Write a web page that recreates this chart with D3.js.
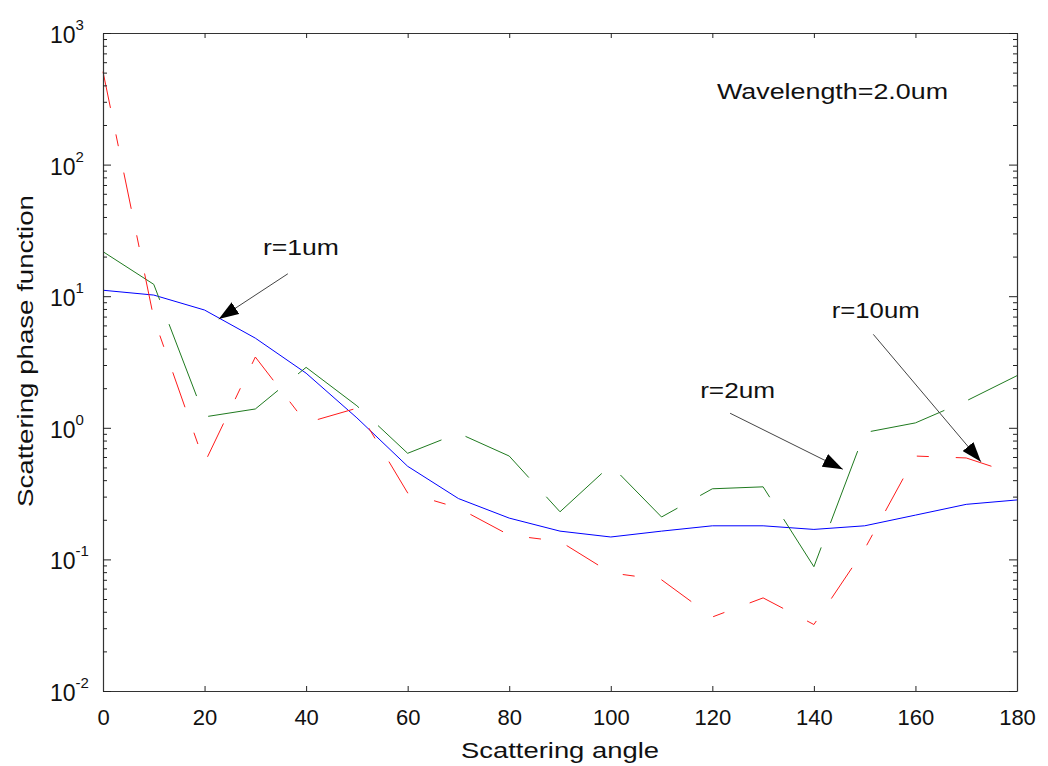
<!DOCTYPE html>
<html>
<head>
<meta charset="utf-8">
<script src="https://cdn.jsdelivr.net/npm/d3@7"></script>
<style>
  body { margin: 0; background: #fff; }
  svg text { font-family: "Liberation Sans", Arial, sans-serif; fill: #111; }
</style>
</head>
<body>
<svg id="chart" width="1048" height="766"></svg>
<script>
// scattering angle (deg)
const angles = [0, 10, 20, 30, 40, 50, 60, 70, 80, 90, 100, 110, 120, 130, 140, 150, 160, 170, 180];
// phase function, r = 1um
const r1um = [11.1, 10.2, 7.85, 4.8, 2.6, 1.19, 0.51, 0.29, 0.206, 0.164, 0.148, 0.164, 0.18, 0.18, 0.169, 0.18, 0.217, 0.262, 0.283];
// r = 2um
const r2um = [21.8, 12.3, 1.21, 1.39, 2.88, 1.47, 0.64, 0.91, 0.61, 0.23, 0.52, 0.21, 0.344, 0.356, 0.088, 0.92, 1.09, 1.6, 2.49];
// r = 10um
const r10um = [508, 6.8, 0.54, 3.45, 1.09, 1.41, 0.32, 0.246, 0.153, 0.137, 0.079, 0.07, 0.0365, 0.051, 0.032, 0.12, 0.61, 0.59, 0.44];

const xTicks = [0, 20, 40, 60, 80, 100, 120, 140, 160, 180];
const yDecades = [-2, -1, 0, 1, 2, 3];

const series = [
    { name: "r=1um", values: r1um, color: "#0000ff", dash: null },
    { name: "r=2um", values: r2um, color: "#1f7a1f", dash: "77,26" },
    { name: "r=10um", values: r10um, color: "#ff1a1a", dash: "37,27,12,27" }
];

// annotations: label text, label position, arrow start / tip in data units
const notes = [
    { text: "r=1um", lx: 31.5, ly: 20.6, len: 76, from: [36.4, 14.8], to: [22.8, 6.7] },
    { text: "r=2um", lx: 117.6, ly: 1.68, len: 75, from: [123.5, 1.29], to: [145.7, 0.484] },
    { text: "r=10um", lx: 143.5, ly: 6.79, len: 88, from: [151.7, 5.13], to: [172.9, 0.552] }
];

const svg = d3.select("#chart");
const mLeft = 103, mRight = 1017, mTop = 33, mBottom = 691;

const x = d3.scaleLinear().domain([0, 180]).range([mLeft, mRight]);
const y = d3.scaleLog().domain([0.01, 1000]).range([mBottom, mTop]);

const minorVals = [];
yDecades.forEach(e => {
    if (e === 3) return;
    for (let k = 2; k <= 9; k++) minorVals.push(k * Math.pow(10, e));
});
const majorVals = yDecades.map(e => Math.pow(10, e));

// plot lines
const line = d3.line()
    .x((d, i) => x(angles[i]))
    .y(d => y(d));

svg.append("g")
    .selectAll("path")
    .data(series)
    .join("path")
    .attr("d", d => line(d.values))
    .attr("fill", "none")
    .attr("stroke", d => d.color)
    .attr("stroke-width", 1)
    .attr("stroke-dasharray", d => d.dash);

// axes, box with inward ticks
function styleAxis(g) {
    g.select(".domain").attr("stroke", "#333").attr("stroke-width", 1.2);
    g.selectAll(".tick line").attr("stroke", "#222");
}

svg.append("g")
    .attr("transform", `translate(0,${mBottom})`)
    .call(d3.axisBottom(x).tickValues(xTicks).tickSizeInner(-5).tickSizeOuter(0).tickPadding(18))
    .call(styleAxis)
    .call(g => g.selectAll(".tick text").attr("font-size", 22).attr("font-family", "Liberation Sans, Arial, sans-serif").attr("fill", "#111"));

svg.append("g")
    .attr("transform", `translate(0,${mTop})`)
    .call(d3.axisTop(x).tickValues(xTicks).tickSizeInner(-5).tickSizeOuter(0).tickFormat(""))
    .call(styleAxis);

[[mLeft, d3.axisLeft], [mRight, d3.axisRight]].forEach(([px, ax]) => {
    svg.append("g")
        .attr("transform", `translate(${px},0)`)
        .call(ax(y).tickValues(majorVals).tickSizeInner(-8).tickSizeOuter(0).tickFormat(""))
        .call(styleAxis);
    svg.append("g")
        .attr("transform", `translate(${px},0)`)
        .call(ax(y).tickValues(minorVals).tickSizeInner(-4).tickSizeOuter(0).tickFormat(""))
        .call(styleAxis)
        .call(g => g.select(".domain").remove());
});

// y tick labels 10^n
const ylab = svg.append("g")
    .selectAll("text")
    .data(yDecades)
    .join("text")
    .attr("x", 50)
    .attr("y", d => y(Math.pow(10, d)) + 10)
    .attr("font-size", 23);
ylab.append("tspan").text("10");
ylab.append("tspan")
    .attr("dy", -13)
    .attr("font-size", 15)
    .text(d => d);

// axis titles
svg.append("text")
    .attr("x", (mLeft + mRight) / 2)
    .attr("y", 758)
    .attr("text-anchor", "middle")
    .attr("font-size", 22)
    .attr("textLength", 198)
    .attr("lengthAdjust", "spacingAndGlyphs")
    .text("Scattering angle");

svg.append("text")
    .attr("transform", "translate(33,351) rotate(-90)")
    .attr("text-anchor", "middle")
    .attr("font-size", 22)
    .attr("textLength", 312)
    .attr("lengthAdjust", "spacingAndGlyphs")
    .text("Scattering phase function");

svg.append("text")
    .attr("x", 717)
    .attr("y", 99)
    .attr("font-size", 22)
    .attr("textLength", 231)
    .attr("lengthAdjust", "spacingAndGlyphs")
    .text("Wavelength=2.0um");

// arrows
svg.append("defs").append("marker")
    .attr("id", "head")
    .attr("markerUnits", "userSpaceOnUse")
    .attr("viewBox", "0 0 20 14")
    .attr("markerWidth", 20)
    .attr("markerHeight", 14)
    .attr("refX", 20)
    .attr("refY", 7)
    .attr("orient", "auto")
    .append("path")
    .attr("d", "M0,0L20,7L0,14Z")
    .attr("fill", "#000");

const ann = svg.append("g").selectAll("g").data(notes).join("g");
ann.append("line")
    .attr("x1", d => x(d.from[0]))
    .attr("y1", d => y(d.from[1]))
    .attr("x2", d => x(d.to[0]))
    .attr("y2", d => y(d.to[1]))
    .attr("stroke", "#444")
    .attr("stroke-width", 1)
    .attr("marker-end", "url(#head)");
ann.append("text")
    .attr("x", d => x(d.lx))
    .attr("y", d => y(d.ly))
    .attr("font-size", 22)
    .attr("textLength", d => d.len)
    .attr("lengthAdjust", "spacingAndGlyphs")
    .text(d => d.text);
</script>
</body>
</html>
